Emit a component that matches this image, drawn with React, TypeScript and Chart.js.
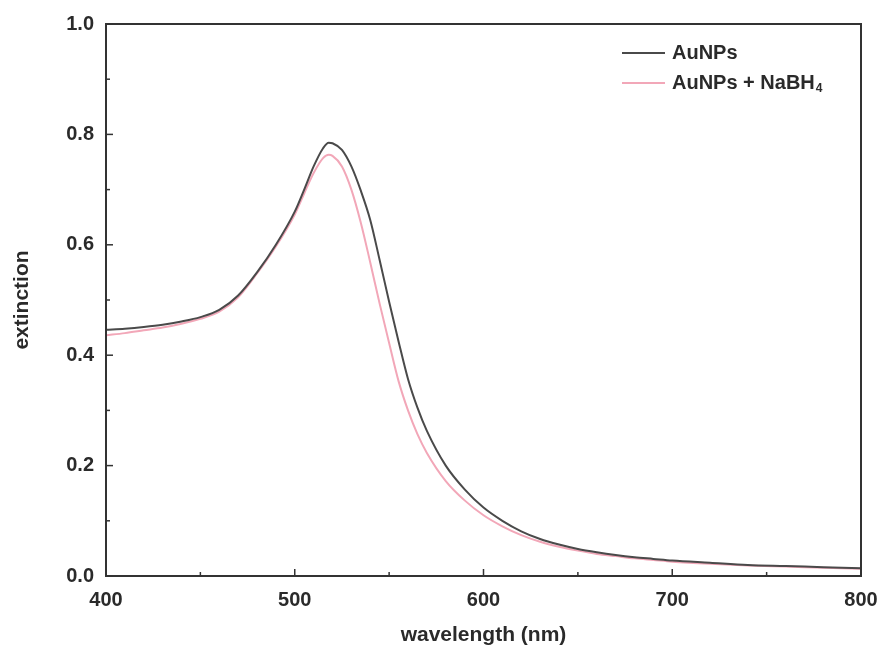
import React, { useEffect, useRef } from "react";
import { Chart, registerables } from "chart.js";

Chart.register(...registerables);

const wavelengths = [400, 410, 420, 430, 440, 450, 460, 470, 480, 490, 500, 505, 510, 515, 518, 520, 525, 530, 535, 540, 545, 550, 555, 560, 565, 570, 580, 590, 600, 610, 620, 630, 640, 650, 660, 670, 680, 690, 700, 720, 740, 760, 780, 800];
const auNPs = [0.446, 0.448, 0.451, 0.455, 0.461, 0.469, 0.482, 0.508, 0.550, 0.600, 0.660, 0.700, 0.742, 0.775, 0.785, 0.784, 0.772, 0.742, 0.698, 0.645, 0.572, 0.497, 0.425, 0.357, 0.305, 0.263, 0.200, 0.157, 0.124, 0.100, 0.081, 0.067, 0.057, 0.049, 0.043, 0.038, 0.034, 0.031, 0.028, 0.024, 0.020, 0.018, 0.016, 0.014];
const auNPsNaBH4 = [0.436, 0.440, 0.445, 0.450, 0.457, 0.466, 0.479, 0.505, 0.548, 0.597, 0.655, 0.693, 0.730, 0.757, 0.763, 0.761, 0.742, 0.700, 0.640, 0.568, 0.493, 0.422, 0.353, 0.300, 0.257, 0.223, 0.172, 0.137, 0.110, 0.090, 0.074, 0.062, 0.053, 0.046, 0.040, 0.036, 0.032, 0.029, 0.026, 0.022, 0.019, 0.017, 0.015, 0.013];

const xMajorTicks = [400, 500, 600, 700, 800];
const xMinorTicks = [450, 550, 650, 750];
const yMajorTicks = [0, 0.2, 0.4, 0.6, 0.8, 1.0];
const yMinorTicks = [0.1, 0.3, 0.5, 0.7, 0.9];

const seriesLabels = ["AuNPs", "AuNPs + NaBH", "4"];
const xTitle = "wavelength (nm)";
const yTitle = "extinction";

const FONT = "'Liberation Sans', Arial, sans-serif";
const TEXT = "#2a2a2a";
const BLACK = "#4a4a4a";
const PINK = "#f2a7b8";
const AXIS = "#333333";

const framePlugin = {
  id: "frameTicks",
  afterDatasetsDraw(chart: any) {
    const { ctx, chartArea, scales } = chart;
    const { left, right, top, bottom } = chartArea;
    ctx.save();
    ctx.strokeStyle = AXIS;
    ctx.lineWidth = 2;
    ctx.strokeRect(left, top, right - left, bottom - top);
    ctx.lineWidth = 1.5;
    const drawX = (v: number, len: number) => {
      const px = scales.x.getPixelForValue(v);
      ctx.beginPath();
      ctx.moveTo(px, bottom);
      ctx.lineTo(px, bottom - len);
      ctx.stroke();
    };
    const drawY = (v: number, len: number) => {
      const py = scales.y.getPixelForValue(v);
      ctx.beginPath();
      ctx.moveTo(left, py);
      ctx.lineTo(left + len, py);
      ctx.stroke();
    };
    xMajorTicks.forEach((v) => drawX(v, 7));
    xMinorTicks.forEach((v) => drawX(v, 4));
    yMajorTicks.forEach((v) => drawY(v, 7));
    yMinorTicks.forEach((v) => drawY(v, 4));

    // legend
    const lx = left + (622 - 106);
    const tx = left + (672 - 106);
    const y1 = top + (53 - 24);
    const y2 = top + (83 - 24);
    ctx.lineWidth = 2;
    ctx.strokeStyle = BLACK;
    ctx.beginPath();
    ctx.moveTo(lx, y1);
    ctx.lineTo(lx + 43, y1);
    ctx.stroke();
    ctx.strokeStyle = PINK;
    ctx.beginPath();
    ctx.moveTo(lx, y2);
    ctx.lineTo(lx + 43, y2);
    ctx.stroke();
    ctx.fillStyle = TEXT;
    ctx.textBaseline = "middle";
    ctx.textAlign = "left";
    ctx.font = `bold 20px ${FONT}`;
    ctx.fillText(seriesLabels[0], tx, y1);
    ctx.fillText(seriesLabels[1], tx, y2);
    const w = ctx.measureText(seriesLabels[1]).width;
    ctx.font = `bold 12px ${FONT}`;
    ctx.fillText(seriesLabels[2], tx + w + 1, y2 + 6);
    ctx.restore();
  },
};

export default function App() {
  const ref = useRef<HTMLCanvasElement | null>(null);
  useEffect(() => {
    if (!ref.current) return;
    const chart = new Chart(ref.current, {
      type: "line",
      data: {
        datasets: [
          {
            label: seriesLabels[0],
            data: wavelengths.map((x, i) => ({ x, y: auNPs[i] })),
            borderColor: BLACK,
            borderWidth: 2,
            pointRadius: 0,
            cubicInterpolationMode: "monotone",
            fill: false,
          },
          {
            label: seriesLabels[1] + seriesLabels[2],
            data: wavelengths.map((x, i) => ({ x, y: auNPsNaBH4[i] })),
            borderColor: PINK,
            borderWidth: 2,
            pointRadius: 0,
            cubicInterpolationMode: "monotone",
            fill: false,
          },
        ],
      },
      options: {
        animation: false,
        responsive: false,
        devicePixelRatio: 1,
        layout: { padding: { left: 0, top: 24, right: 23, bottom: 0 } },
        plugins: { legend: { display: false }, tooltip: { enabled: false } },
        scales: {
          x: {
            type: "linear",
            min: 400,
            max: 800,
            grid: { display: false, drawTicks: false },
            border: { display: false },
            ticks: {
              stepSize: 100,
              padding: 12,
              color: TEXT,
              font: { family: FONT, size: 20, weight: "bold" },
              maxRotation: 0,
            },
            title: {
              display: true,
              text: xTitle,
              color: TEXT,
              font: { family: FONT, size: 21, weight: "bold" },
              padding: { top: 0, bottom: 0 },
            },
            afterFit: (s: any) => {
              s.height = 72;
              s.paddingLeft = 0;
              s.paddingRight = 0;
            },
          },
          y: {
            type: "linear",
            min: 0,
            max: 1.0,
            grid: { display: false, drawTicks: false },
            border: { display: false },
            ticks: {
              stepSize: 0.2,
              padding: 12,
              color: TEXT,
              font: { family: FONT, size: 20, weight: "bold" },
              callback: (v: any) => Number(v).toFixed(1),
            },
            title: {
              display: true,
              text: yTitle,
              color: TEXT,
              font: { family: FONT, size: 21, weight: "bold" },
              padding: { top: 10, bottom: 0 },
            },
            afterFit: (s: any) => {
              s.width = 106;
              s.paddingTop = 0;
              s.paddingBottom = 0;
            },
          },
        },
      },
      plugins: [framePlugin],
    } as any);
    return () => chart.destroy();
  }, []);
  return (
    <div style={{ position: "absolute", left: 0, top: 0, width: 884, height: 648, background: "#fff" }}>
      <canvas ref={ref} width={884} height={648} style={{ display: "block", width: 884, height: 648 }} />
    </div>
  );
}
